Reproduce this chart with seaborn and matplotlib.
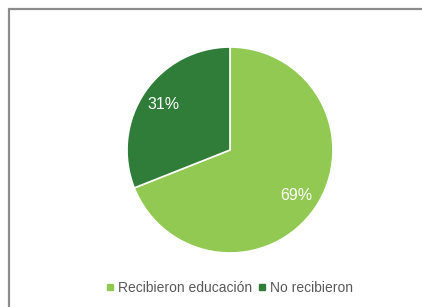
import matplotlib
matplotlib.use("Agg")
import matplotlib.pyplot as plt
import seaborn as sns
from matplotlib.lines import Line2D

sns.set_theme(style="white")
plt.rcParams['font.family'] = ['Liberation Sans', 'DejaVu Sans']

categories = ["Recibieron educación", "No recibieron"]
values = [69, 31]
colors = ["#92C953", "#2F7D38"]

fig = plt.figure(figsize=(4.22, 3.07), dpi=100)
fig.patch.set_facecolor("white")

# frame border (left and top visible)
bx, by = 8.5 / 422, 1 - 8.5 / 307
fig.add_artist(Line2D([bx, bx], [0, by], transform=fig.transFigure, color="#8c8c8c", linewidth=1.6))
fig.add_artist(Line2D([bx, 1.0], [by, by], transform=fig.transFigure, color="#8c8c8c", linewidth=1.6))

ax = fig.add_axes([126 / 422, (307 - 254) / 307, 208 / 422, 208 / 307])
wedges, texts, autotexts = ax.pie(values, colors=colors, startangle=90, counterclock=False,
                                  autopct=lambda p: f"{p:.0f}%", pctdistance=0.78,
                                  wedgeprops=dict(edgecolor="white", linewidth=1.2),
                                  textprops=dict(color="white", fontsize=11.5))
ax.set_xlim(-1.01, 1.01)
ax.set_ylim(-1.01, 1.01)
ax.set_aspect("equal")

handles = [Line2D([0], [0], marker="s", linestyle="", markersize=4.5, markerfacecolor=c,
                  markeredgecolor=c) for c in colors]
fig.legend(handles, categories, loc="center", bbox_to_anchor=(228 / 422, 1 - 288 / 307),
           ncol=2, frameon=False, fontsize=10, handletextpad=0.1, columnspacing=0.2,
           labelcolor="#595959", handlelength=1.0)

fig.savefig("out.png", dpi=100)
